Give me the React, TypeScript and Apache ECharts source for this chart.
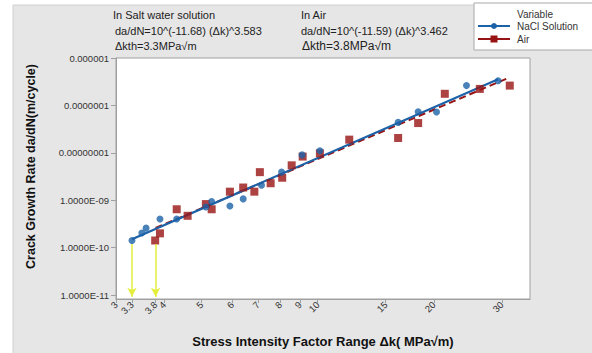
import React, { useEffect, useRef } from "react";
import * as echarts from "echarts";

// Δk (MPa√m) and da/dN (m/cycle)
const naclDeltaK = [3.3, 3.5, 3.59, 3.9, 4.31, 5.13, 5.31, 5.92, 6.41, 7.15, 8.06, 9.11, 10.13, 16.16, 18.21, 20.32, 24.3, 29.35];
const naclRate = [1.42e-10, 2.05e-10, 2.59e-10, 4.03e-10, 4.03e-10, 7.21e-10, 9.45e-10, 7.56e-10, 1.07e-9, 2.08e-9, 3.92e-9, 9.06e-9, 1.11e-8, 4.39e-8, 7.38e-8, 7.28e-8, 2.62e-7, 3.32e-7];

const airDeltaK = [3.79, 3.9, 4.31, 4.6, 5.13, 5.31, 5.92, 6.41, 6.85, 7.08, 7.55, 8.09, 8.56, 9.14, 10.13, 12.07, 16.16, 18.21, 21.35, 26.31, 31.46];
const airRate = [1.42e-10, 2.01e-10, 6.47e-10, 4.71e-10, 8.32e-10, 6.47e-10, 1.52e-9, 1.86e-9, 1.52e-9, 3.92e-9, 2.29e-9, 2.99e-9, 5.46e-9, 8.35e-9, 9.77e-9, 1.9e-8, 2.06e-8, 4.25e-8, 1.76e-7, 2.23e-7, 2.62e-7];

// fitted lines (end points)
const naclFitK = [3.3, 29.35];
const naclFitRate = [1.51e-10, 3.58e-7];
const airFitK = [3.8, 31.1];
const airFitRate = [2.61e-10, 3.76e-7];

// thresholds
const thresholdK = [3.3, 3.8];
const thresholdTop = [1.2e-10, 1.2e-10];
const thresholdBottom = [9.3e-12, 9.3e-12];

const xTicks = [3, 3.3, 3.8, 4, 5, 6, 7, 8, 9, 10, 15, 20, 30];
const yTicks = [1e-11, 1e-10, 1e-9, 1e-8, 1e-7, 1e-6];
const yTickLabels = ["1.0000E-11", "1.0000E-10", "1.0000E-09", "0.00000001", "0.0000001", "0.000001"];

const BLUE = "#1c62a8";
const RED = "#981313";
const YELLOW = "#e4ee3a";
const FONT = "Liberation Sans, Arial, sans-serif";

export default function App() {
  const ref = useRef<HTMLDivElement>(null);
  useEffect(() => {
    if (!ref.current) return;
    const chart = echarts.init(ref.current, undefined, { renderer: "svg" });
    const pairs = (xs: number[], ys: number[]) => xs.map((x, i) => [x, ys[i]]);
    chart.setOption({
      animation: false,
      backgroundColor: "#ffffff",
      textStyle: { fontFamily: FONT },
      grid: {
        left: 116,
        top: 58,
        right: 62,
        bottom: 47,
        show: true,
        backgroundColor: "#ffffff",
        borderColor: "#a0a0a0",
        borderWidth: 1,
      },
      xAxis: {
        type: "log",
        logBase: 10,
        min: 3,
        max: 35.5,
        name: "Stress Intensity Factor Range Δk( MPa√m)",
        nameLocation: "middle",
        nameGap: 36,
        nameTextStyle: { fontWeight: "bold", fontSize: 13, color: "#111", fontFamily: FONT },
        axisLine: { show: true, lineStyle: { color: "#a0a0a0" } },
        axisTick: { show: true, customValues: xTicks, length: 4, lineStyle: { color: "#a0a0a0" } },
        axisLabel: {
          customValues: xTicks,
          rotate: 45,
          fontSize: 9.5,
          color: "#333",
          margin: 4,
          fontFamily: FONT,
          formatter: (v: number) => String(+(+v).toFixed(2)),
        },
        splitLine: { show: false },
        minorTick: { show: false },
      },
      yAxis: {
        type: "log",
        logBase: 10,
        min: 8.3e-12,
        max: 1e-6,
        name: "Crack Growth Rate da/dN(m/cycle)",
        nameLocation: "middle",
        nameGap: 79,
        nameTextStyle: { fontWeight: "bold", fontSize: 12.5, color: "#111", fontFamily: FONT, padding: [0, 0, 0, 24] },
        axisLine: { show: true, lineStyle: { color: "#a0a0a0" } },
        axisTick: { show: true, customValues: yTicks, length: 5, lineStyle: { color: "#a0a0a0" } },
        axisLabel: {
          customValues: yTicks,
          fontSize: 9.5,
          color: "#333",
          margin: 7,
          fontFamily: FONT,
          formatter: (v: number) => {
            const e = Math.round(Math.log10(v));
            const idx = yTicks.findIndex((t) => Math.round(Math.log10(t)) === e);
            return idx >= 0 ? yTickLabels[idx] : "";
          },
        },
        splitLine: { show: false },
      },
      series: [
        {
          name: "NaCl fit",
          type: "line",
          data: pairs(naclFitK, naclFitRate),
          showSymbol: false,
          symbol: "none",
          lineStyle: { color: BLUE, width: 2.2 },
          z: 3,
        },
        {
          name: "Air fit",
          type: "line",
          data: pairs(airFitK, airFitRate),
          showSymbol: false,
          symbol: "none",
          lineStyle: { color: RED, width: 2, type: [7, 4] },
          z: 2,
        },
        {
          name: "Air",
          type: "scatter",
          data: pairs(airDeltaK, airRate),
          symbol: "rect",
          symbolSize: 8,
          itemStyle: { color: RED },
          z: 4,
          markLine: {
            silent: true,
            symbol: ["none", "arrow"],
            symbolSize: [7, 9],
            label: { show: false },
            lineStyle: { color: YELLOW, width: 1.5, type: "solid" },
            data: thresholdK.map((k, i) => [
              { coord: [k, thresholdTop[i]] },
              { coord: [k, thresholdBottom[i]] },
            ]),
          },
        },
        {
          name: "NaCl Solution",
          type: "scatter",
          data: pairs(naclDeltaK, naclRate),
          symbol: "circle",
          symbolSize: 7,
          itemStyle: { color: BLUE },
          z: 5,
        },
      ],
      graphic: [
        {
          type: "rect",
          z: -10,
          silent: true,
          shape: { x: 13, y: 5, width: 600, height: 360 },
          style: { fill: "#e6e6e6", stroke: "#d0d0d0", lineWidth: 1 },
        },
        { type: "text", x: 113, y: 15, style: { text: "In Salt water solution", fontSize: 11, fill: "#222", fontFamily: FONT, verticalAlign: "middle" } },
        { type: "text", x: 115, y: 31, style: { text: "da/dN=10^(-11.68) (Δk)^3.583", fontSize: 11, fill: "#222", fontFamily: FONT, verticalAlign: "middle" } },
        { type: "text", x: 115, y: 46, style: { text: "Δkth=3.3MPa√m", fontSize: 11, fill: "#222", fontFamily: FONT, verticalAlign: "middle" } },
        { type: "text", x: 301, y: 15, style: { text: "In Air", fontSize: 11, fill: "#222", fontFamily: FONT, verticalAlign: "middle" } },
        { type: "text", x: 301, y: 31, style: { text: "da/dN=10^(-11.59) (Δk)^3.462", fontSize: 11, fill: "#222", fontFamily: FONT, verticalAlign: "middle" } },
        { type: "text", x: 302, y: 46, style: { text: "Δkth=3.8MPa√m", fontSize: 12, fill: "#222", fontFamily: FONT, verticalAlign: "middle" } },
        {
          type: "rect",
          shape: { x: 474, y: 3, width: 130, height: 47 },
          style: { fill: "#ffffff", stroke: "#a8a8a8", lineWidth: 1 },
        },
        { type: "text", x: 517, y: 14, style: { text: "Variable", fontSize: 10, fill: "#333", fontFamily: FONT, verticalAlign: "middle" } },
        { type: "line", shape: { x1: 478, y1: 26, x2: 510, y2: 26 }, style: { stroke: BLUE, lineWidth: 2 } },
        { type: "circle", shape: { cx: 494, cy: 26, r: 3 }, style: { fill: BLUE } },
        { type: "text", x: 517, y: 26, style: { text: "NaCl Solution", fontSize: 10, fill: "#333", fontFamily: FONT, verticalAlign: "middle" } },
        { type: "line", shape: { x1: 478, y1: 39, x2: 510, y2: 39 }, style: { stroke: RED, lineWidth: 2 } },
        { type: "rect", shape: { x: 490.5, y: 35.5, width: 7, height: 7 }, style: { fill: RED } },
        { type: "text", x: 517, y: 39, style: { text: "Air", fontSize: 10, fill: "#333", fontFamily: FONT, verticalAlign: "middle" } },
      ],
    });
    return () => chart.dispose();
  }, []);
  return (
    <div
      ref={ref}
      style={{ position: "fixed", left: 0, top: 0, width: 592, height: 353 }}
    />
  );
}
